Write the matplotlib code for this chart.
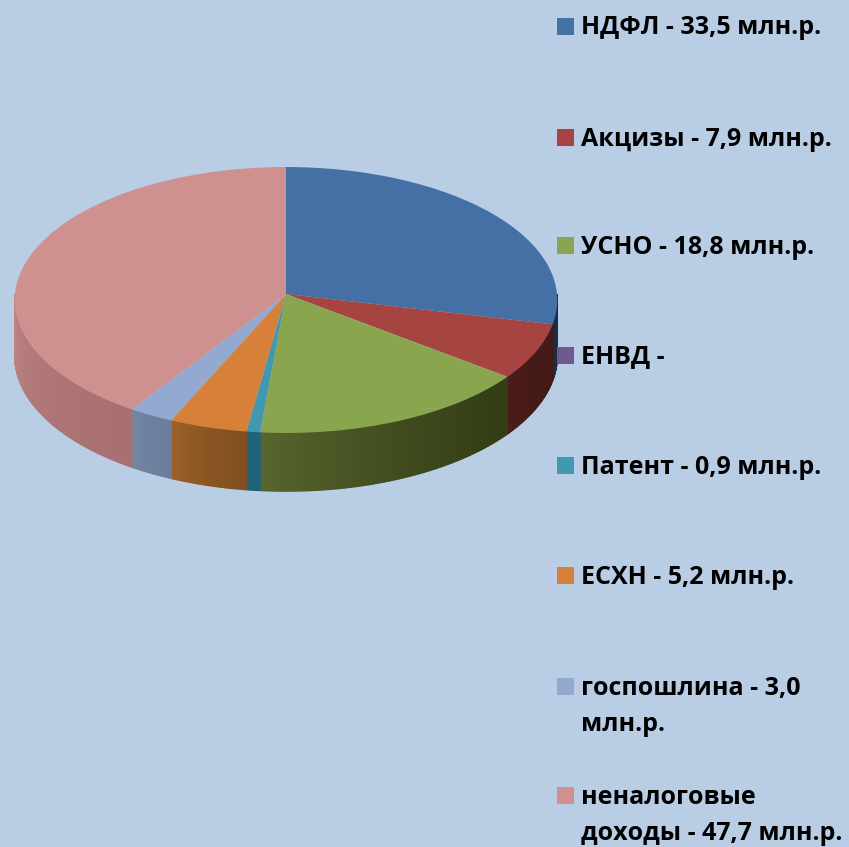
import numpy as np
import matplotlib
matplotlib.use('Agg')
import matplotlib.pyplot as plt
from matplotlib.colors import to_rgb
from matplotlib.patches import Rectangle
from matplotlib.path import Path
from matplotlib.transforms import Transform

plt.rcParams['font.family'] = ['Open Sans', 'DejaVu Sans']

# данные
values = [33.5, 7.9, 18.8, 0.0, 0.9, 5.2, 3.0, 47.7]
labels = ['НДФЛ - 33,5 млн.р.', 'Акцизы - 7,9 млн.р.', 'УСНО - 18,8 млн.р.', 'ЕНВД -',
          'Патент - 0,9 млн.р.', 'ЕСХН - 5,2 млн.р.', 'госпошлина - 3,0\nмлн.р.',
          'неналоговые\nдоходы - 47,7 млн.р.']
colors = ['#4470a6', '#a64441', '#89a54e', '#71588f', '#4198af', '#d6803a', '#93a9cf', '#cf9190']
# боковая стенка: цвет слева и справа
wall_left = ['#1c2c44', '#4c1c1a', '#56652d', '#71588f', '#1f6378', '#9c6029', '#74869f', '#bc8583']
wall_right = ['#1c2c44', '#431916', '#343e16', '#71588f', '#1f6378', '#82501f', '#6c7d9e', '#a87070']

W, H = 849, 847
bg = '#b9cde5'
# геометрия эллипса в пикселях
cx, cy, rx, ry, depth = 286, 294, 271, 132.7, 55.5
persp = 0.0451
legend_y = [26, 137, 245, 355, 465, 575, 686, 795]
text_y = [25, 136, 244, 354, 464, 574, 685, 794]
line_step = 36


# перспектива для круга
def project(xy):
    xy = np.asarray(xy, dtype=float)
    s = 1 / (1 + persp * xy[..., 1])
    return np.stack([xy[..., 0] * s, xy[..., 1] * s], axis=-1)


class PerspTransform(Transform):
    input_dims = output_dims = 2

    def transform_non_affine(self, values):
        return project(values)

    def transform_path_non_affine(self, path):
        return Path(project(path.vertices), path.codes)


fig = plt.figure(figsize=(W / 100, H / 100), dpi=100, facecolor=bg)
ax = fig.add_axes([0, 0, 1, 1])

wedges, _ = ax.pie(values, colors=colors, startangle=90, counterclock=False,
                   wedgeprops={'linewidth': 0})
ax.set_aspect('auto')
ax.set_xlim(-cx / rx, (W - cx) / rx)
ax.set_ylim((cy - H) / ry, cy / ry)
ax.axis('off')
for w in wedges:
    w.set_transform(PerspTransform() + ax.transData)

# боковая стенка
d = depth / ry
edges = np.cumsum([0] + values) / sum(values) * 360
for i in range(len(values)):
    a0, a1 = max(edges[i], 90), min(edges[i + 1], 270)
    if a1 <= a0:
        continue
    steps = np.linspace(a0, a1, int(a1 - a0) * 2 + 2)
    left, right = np.array(to_rgb(wall_left[i])), np.array(to_rgb(wall_right[i]))
    for j in range(len(steps) - 1):
        t = np.radians(np.linspace(steps[j], steps[j + 1], 4))
        top = project(np.column_stack([np.sin(t), np.cos(t)]))
        drop = d / (1 + persp * np.cos(t))
        k = (j / max(len(steps) - 2, 1)) ** 1.5
        c = right * (1 - k) + left * k  # углы идут справа налево
        ax.fill(np.r_[top[:, 0], top[::-1, 0]],
                np.r_[top[:, 1], (top[:, 1] - drop)[::-1]],
                color=c, lw=1.0, zorder=0)

# легенда
for y, ty, lab, c in zip(legend_y, text_y, labels, colors):
    fig.add_artist(Rectangle((557 / W, 1 - (y + 9) / H), 17 / W, 17 / H, color=c,
                             transform=fig.transFigure, lw=0))
    for n, part in enumerate(lab.split('\n')):
        fig.text(581 / W, 1 - (ty + n * line_step) / H, part, fontsize=18,
                 fontweight='bold', color='black', va='center_baseline')

fig.savefig('out.png', dpi=100, facecolor=bg)
